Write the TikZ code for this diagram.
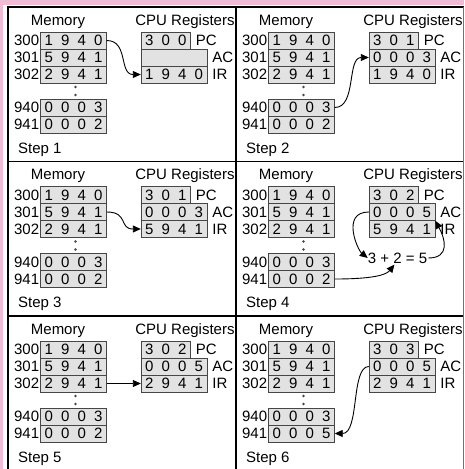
\documentclass[tikz,border=0pt]{standalone}
\usepackage{fontspec}
\setmainfont{Liberation Sans}
\usetikzlibrary{arrows.meta,positioning}

\definecolor{pagePink}{RGB}{239,188,214}
\definecolor{cellFill}{RGB}{226,226,226}
\definecolor{cellLine}{RGB}{70,70,70}

% one digit per cell
\newcommand{\fourdig}[4]{\makebox[16.5pt]{#1}\makebox[16.5pt]{#2}\makebox[16.5pt]{#3}\makebox[16.5pt]{#4}}
\newcommand{\threedig}[3]{\makebox[16.5pt]{#1}\makebox[16.5pt]{#2}\makebox[16.5pt]{#3}}

\tikzset{
  word/.style={draw=cellLine, fill=cellFill, minimum width=66pt, minimum height=17pt, inner sep=0pt},
  shortword/.style={word, minimum width=49.5pt},
  addr/.style={anchor=east, inner sep=1pt},
  reglabel/.style={inner sep=0pt},
  heading/.style={inner sep=0pt},
  flow/.style={-{Triangle[length=8pt,width=7pt]}, line width=0.9pt},
  panelrule/.style={line width=1.8pt},
}

% #1 prefix, #2/#3 panel corner, #4 step, #5 word 941, #6 PC, #7 AC, #8 IR
\newcommand{\cpustate}[8]{%
  \begin{scope}[shift={(#2,#3)}]
    \node[heading] (#1-mem) at (50,14.5) {Memory};
    \node[heading] (#1-cpu) at (177,14.5) {CPU Registers};
    \node[word] (#1-300) at (65.5,33.5) {\fourdig1940};
    \node[word] (#1-301) at (65.5,50.5) {\fourdig5941};
    \node[word] (#1-302) at (65.5,67.5) {\fourdig2941};
    \node[word] (#1-940) at (65.5,100.5) {\fourdig0003};
    \node[word] (#1-941) at (65.5,117.5) {#5};
    \foreach \a in {300,301,302,940,941}
      \node[addr] (#1-\a-lbl) at (#1-\a.west) {\a};
    \foreach \dy in {80,88}
      \fill[cellLine] (67.5,\dy) circle (1.4pt);
    \node[shortword] (#1-pc) at (157.75,33.5) {#6};
    \node[word] (#1-ac) at (166,50.5) {#7};
    \node[word] (#1-ir) at (166,67.5) {#8};
    \node[reglabel, right=5pt of #1-pc] (#1-pc-lbl) {PC};
    \node[reglabel, right=5pt of #1-ac] (#1-ac-lbl) {AC};
    \node[reglabel, right=5pt of #1-ir] (#1-ir-lbl) {IR};
    \node[anchor=west, inner sep=0pt] (#1-step) at (10,142.5) {Step #4};
  \end{scope}}

\begin{document}
\begin{tikzpicture}[x=1pt, y=-1pt, font=\fontsize{15}{17}\selectfont]
\useasboundingbox (0,0) rectangle (464,469);
\fill[pagePink] (0,0) rectangle (464,469);
\fill[white] (3,5) rectangle (464,469);

% panel grid
\draw[panelrule] (8,469) -- (8,7) -- (464,7);
\draw[panelrule] (8,161.5) -- (463,161.5);
\draw[panelrule] (8,316) -- (463,316);
\draw[panelrule] (236,7) -- (236,469);
\draw[black!55, line width=1pt] (463,7) -- (463,469);

\cpustate{s1}{8}{7}{1}{\fourdig0002}{\threedig300}{}{\fourdig1940}
\cpustate{s2}{236}{7}{2}{\fourdig0002}{\threedig301}{\fourdig0003}{\fourdig1940}
\cpustate{s3}{8}{161.5}{3}{\fourdig0002}{\threedig301}{\fourdig0003}{\fourdig5941}
\cpustate{s4}{236}{161.5}{4}{\fourdig0002}{\threedig302}{\fourdig0005}{\fourdig5941}
\cpustate{s5}{8}{316}{5}{\fourdig0002}{\threedig302}{\fourdig0005}{\fourdig2941}
\cpustate{s6}{236}{316}{6}{\fourdig0005}{\threedig303}{\fourdig0005}{\fourdig2941}

\node[inner sep=1pt] (s4-sum) at (397.5,258) {3 + 2 = 5};

% fetch / execute moves
\draw[flow] (s1-300.east) .. controls +(22,0) and +(-22,0) .. (s1-ir.west);
\draw[flow] (s2-940.east) .. controls +(22,0) and +(-22,0) .. (s2-ac.west);
\draw[flow] (s3-301.east) .. controls +(22,0) and +(-22,0) .. (s3-ir.west);
\draw[flow] (s4-ac.west) .. controls +(-28,0) and +(-10,-8) .. ([xshift=1pt]s4-sum.west);
\draw[flow] (s4-941.east) .. controls +(40,0) and +(-8,10) .. ([xshift=-3pt]s4-sum.south);
\draw[flow] (s4-sum.east) .. controls +(22,0) and +(10,18) .. (s4-ac.south east);
\draw[flow] (s5-302.east) -- (s5-ir.west);
\draw[flow] (s6-ac.west) .. controls +(-18,0) and +(25,0) .. (s6-941.east);
\end{tikzpicture}
\end{document}
